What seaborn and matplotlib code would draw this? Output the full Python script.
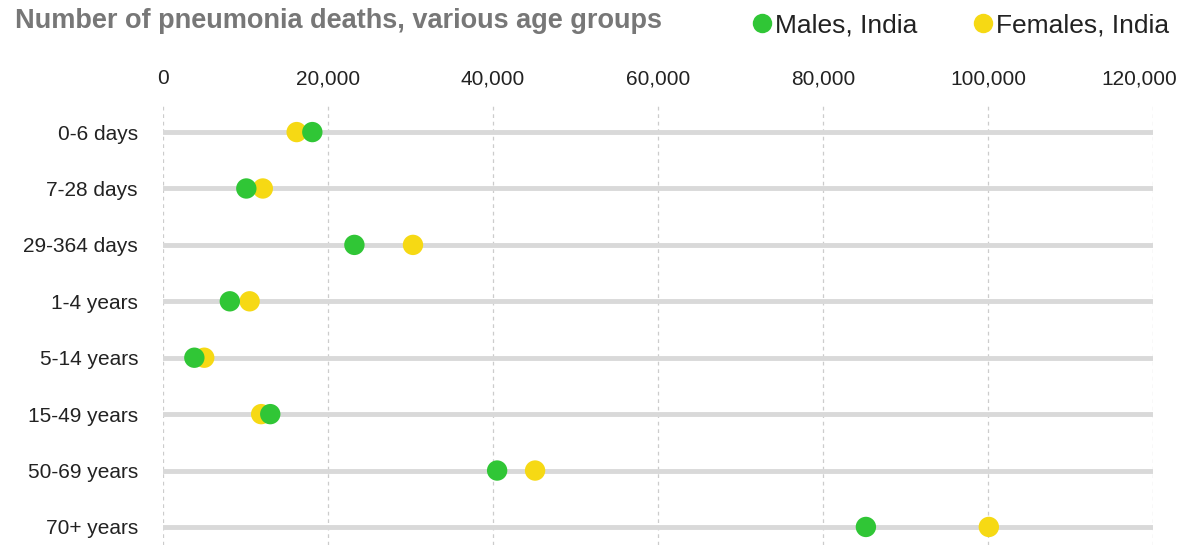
import matplotlib
matplotlib.use("Agg")
import matplotlib.pyplot as plt
from matplotlib.lines import Line2D
from matplotlib.transforms import ScaledTranslation
import seaborn as sns
import pandas as pd

age_groups = ["0-6 days", "7-28 days", "29-364 days", "1-4 years",
              "5-14 years", "15-49 years", "50-69 years", "70+ years"]
males = [18100, 10100, 23200, 8100, 3800, 13000, 40500, 85200]
females = [16200, 12100, 30300, 10500, 5000, 11900, 45100, 100100]
series_names = ["Males, India", "Females, India"]
x_ticks = [0, 20000, 40000, 60000, 80000, 100000, 120000]

GREEN = "#30c636"
YELLOW = "#f6d914"

df = pd.concat([
    pd.DataFrame({"age": age_groups, "deaths": females, "series": series_names[1]}),
    pd.DataFrame({"age": age_groups, "deaths": males, "series": series_names[0]}),
], ignore_index=True)

sns.set_style("white")
plt.rcParams["font.family"] = ["Liberation Sans", "DejaVu Sans"]

fig = plt.figure(figsize=(11.86, 5.45), dpi=100)
ax = fig.add_axes([163 / 1186, 0.0, (1153 - 163) / 1186, 1 - 105 / 545])

sns.scatterplot(data=df, x="deaths", y="age", hue="series",
                palette={series_names[0]: GREEN, series_names[1]: YELLOW},
                s=215, linewidth=0, ax=ax, legend=False, zorder=3, clip_on=False)

ax.set_xlim(0, 120000)
ax.set_ylim(7.32, -0.48)
ax.set_xticks(x_ticks)
ax.set_xticklabels([f"{v:,}" for v in x_ticks])
ax.xaxis.tick_top()
ax.tick_params(axis="x", length=0, pad=12, labelsize=15, labelcolor="#222222")
ax.tick_params(axis="y", length=0, pad=18, labelsize=15, labelcolor="#222222")
ax.set_xlabel("")
ax.set_ylabel("")
for sp in ax.spines.values():
    sp.set_visible(False)

last = ax.get_xticklabels()[-1]
last.set_transform(last.get_transform() + ScaledTranslation(-0.14, 0, fig.dpi_scale_trans))

ax.grid(axis="x", linestyle=(0, (3, 3)), color="#cccccc", linewidth=0.9)
ax.grid(axis="y", linestyle="-", color="#d9d9d9", linewidth=3.5)
ax.set_axisbelow(True)

fig.text(15 / 1186, 1 - 21 / 545, "Number of pneumonia deaths, various age groups",
         fontsize=19.5, fontweight="bold", color="#777777", va="center", ha="left")

handles = [Line2D([], [], marker="o", linestyle="", markersize=14,
                  markerfacecolor=c, markeredgewidth=0) for c in (GREEN, YELLOW)]
fig.legend(handles, series_names, ncol=2, loc="center",
           bbox_to_anchor=(959 / 1186, 1 - 25 / 545), frameon=False,
           fontsize=19, handletextpad=0.0, columnspacing=1.97,
           handlelength=1.0, labelcolor="#222222")

fig.savefig("out.png", dpi=100)
